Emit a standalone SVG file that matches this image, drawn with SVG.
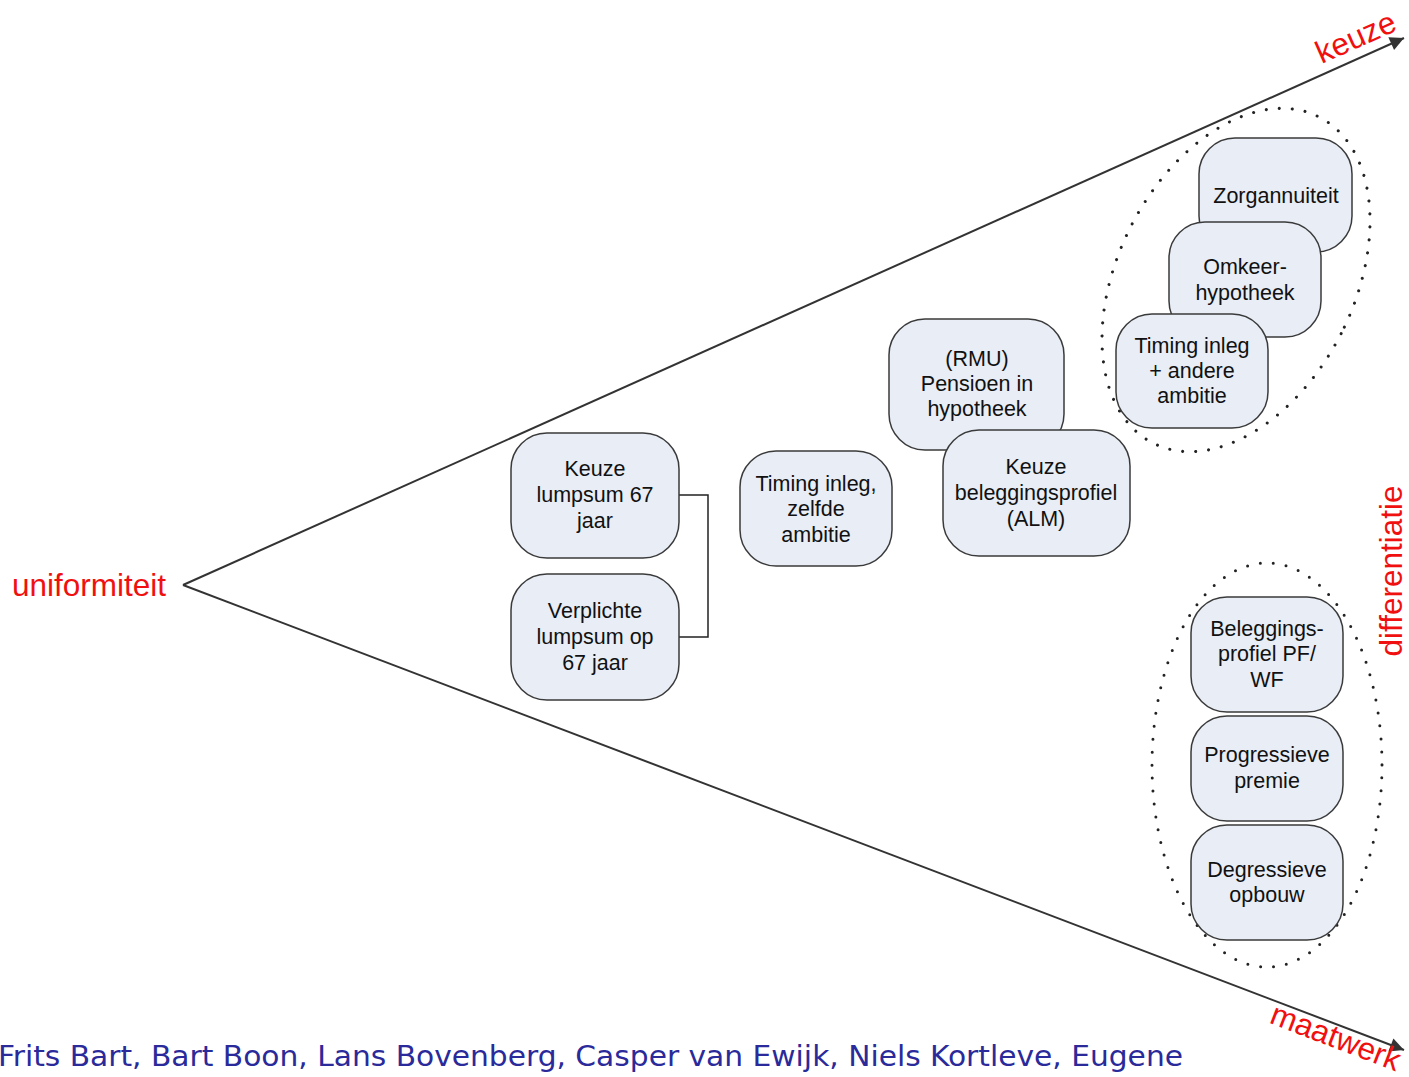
<svg xmlns="http://www.w3.org/2000/svg" width="1409" height="1077" viewBox="0 0 1409 1077">
<style>
.n rect{fill:#e8edf6;stroke:#3a3a3a;stroke-width:1.5}
.n text{font-family:"Liberation Sans",Arial,sans-serif;font-size:21.5px;fill:#111;text-anchor:middle}
.ax{stroke:#333;stroke-width:2;fill:none}
.red{font-family:"Liberation Sans",Arial,sans-serif;font-size:31.5px;fill:#f01010}
.dot{fill:none;stroke:#222;stroke-width:3;stroke-dasharray:0 13;stroke-linecap:round}
</style>
<defs>
<marker id="ah" viewBox="0 0 10 10" refX="10" refY="5" markerWidth="18" markerHeight="14" orient="auto" markerUnits="userSpaceOnUse">
<path d="M0,0 L10,5 L0,10 z" fill="#333"/>
</marker>
</defs>
<rect width="1409" height="1077" fill="#fff"/>
<g id="axes">
<path class="ax" d="M183,585 L1404,38" marker-end="url(#ah)"/>
<path class="ax" d="M183,585 L1404,1050" marker-end="url(#ah)"/>
</g>
<g id="labels">
<text class="red" x="12" y="596">uniformiteit</text>
<text class="red" text-anchor="middle" transform="translate(1360,47) rotate(-24)">keuze</text>
<text class="red" text-anchor="middle" transform="translate(1332,1047) rotate(21)">maatwerk</text>
<text class="red" text-anchor="middle" transform="translate(1402,571) rotate(-90)">differentiatie</text>
</g>
<g id="groups">
<ellipse class="dot" cx="1236" cy="280" rx="118" ry="183" transform="rotate(27 1236 280)"/>
<ellipse class="dot" cx="1267" cy="765" rx="115" ry="202"/>
</g>
<g id="connectors">
<path d="M679,495 H708 V637 H679" fill="none" stroke="#222" stroke-width="1.5"/>
</g>
<g id="n1" class="n"><rect x="511" y="433" width="168" height="125" rx="36"/><text x="595" y="476">Keuze</text><text x="595" y="502">lumpsum 67</text><text x="595" y="528">jaar</text></g>
<g id="n2" class="n"><rect x="511" y="574" width="168" height="126" rx="36"/><text x="595" y="618">Verplichte</text><text x="595" y="644">lumpsum op</text><text x="595" y="670">67 jaar</text></g>
<g id="n3" class="n"><rect x="740" y="451" width="152" height="115" rx="36"/><text x="816" y="491">Timing inleg,</text><text x="816" y="516">zelfde</text><text x="816" y="542">ambitie</text></g>
<g id="n4" class="n"><rect x="889" y="319" width="175" height="131" rx="36"/><text x="977" y="366">(RMU)</text><text x="977" y="391">Pensioen in</text><text x="977" y="416">hypotheek</text></g>
<g id="n5" class="n"><rect x="943" y="430" width="187" height="126" rx="36"/><text x="1036" y="474">Keuze</text><text x="1036" y="500">beleggingsprofiel</text><text x="1036" y="526">(ALM)</text></g>
<g id="n6" class="n"><rect x="1199" y="138" width="153" height="114" rx="36"/><text x="1276" y="203">Zorgannuiteit</text></g>
<g id="n7" class="n"><rect x="1169" y="222" width="152" height="115" rx="36"/><text x="1245" y="274">Omkeer-</text><text x="1245" y="300">hypotheek</text></g>
<g id="n8" class="n"><rect x="1116" y="314" width="152" height="114" rx="36"/><text x="1192" y="353">Timing inleg</text><text x="1192" y="378">+ andere</text><text x="1192" y="403">ambitie</text></g>
<g id="n9" class="n"><rect x="1191" y="597" width="152" height="115" rx="36"/><text x="1267" y="636">Beleggings-</text><text x="1267" y="661">profiel PF/</text><text x="1267" y="687">WF</text></g>
<g id="n10" class="n"><rect x="1191" y="716" width="152" height="105" rx="36"/><text x="1267" y="762">Progressieve</text><text x="1267" y="788">premie</text></g>
<g id="n11" class="n"><rect x="1191" y="825" width="152" height="115" rx="36"/><text x="1267" y="877">Degressieve</text><text x="1267" y="902">opbouw</text></g>
<text x="-2" y="1066" font-family="DejaVu Sans Condensed,DejaVu Sans,sans-serif" font-size="28" fill="#2a2a9a" textLength="1185" lengthAdjust="spacingAndGlyphs">Frits Bart, Bart Boon, Lans Bovenberg, Casper van Ewijk, Niels Kortleve, Eugene</text>
</svg>
